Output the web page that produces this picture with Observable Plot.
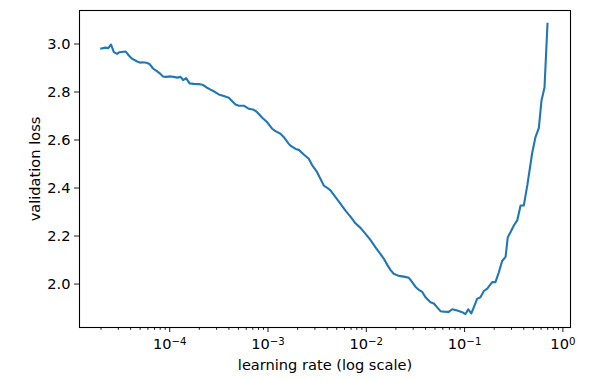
<!DOCTYPE html>
<html>
<head>
<meta charset="utf-8">
<script src="https://cdn.jsdelivr.net/npm/d3@7"></script>
<script src="https://cdn.jsdelivr.net/npm/@observablehq/plot@0.6"></script>
<style>
  html, body { margin: 0; padding: 0; background: #fff; }
  #chart svg { display: block; }
</style>
</head>
<body>
<div id="chart"></div>
<script>
const learningRates = [
  2.01e-5, 2.22e-5, 2.37e-5, 2.53e-5, 2.70e-5, 2.91e-5, 3.08e-5, 3.55e-5, 3.84e-5, 4.16e-5,
  4.67e-5, 5.05e-5, 5.25e-5, 5.81e-5, 6.23e-5, 6.76e-5, 7.34e-5, 7.87e-5, 8.55e-5, 9.06e-5,
  1.02e-4, 1.10e-4, 1.19e-4, 1.29e-4, 1.37e-4, 1.47e-4, 1.59e-4, 1.76e-4, 1.98e-4, 2.19e-4,
  2.37e-4, 2.60e-4, 2.81e-4, 3.16e-4, 3.55e-4, 3.99e-4, 4.32e-4, 4.67e-4, 5.05e-4, 5.68e-4,
  6.38e-4, 7.18e-4, 7.76e-4, 8.73e-4, 9.82e-4, 1.10e-3, 1.19e-3, 1.34e-3, 1.45e-3, 1.62e-3,
  1.69e-3, 1.91e-3, 2.06e-3, 2.31e-3, 2.60e-3, 2.82e-3, 3.16e-3, 3.42e-3, 3.70e-3, 4.00e-3,
  4.32e-3, 4.86e-3, 5.47e-3, 6.14e-3, 6.90e-3, 7.76e-3, 8.73e-3, 9.82e-3, 1.10e-2, 1.24e-2,
  1.39e-2, 1.51e-2, 1.63e-2, 1.76e-2, 1.90e-2, 2.14e-2, 2.41e-2, 2.71e-2, 2.93e-2, 3.17e-2,
  3.42e-2, 3.71e-2, 4.00e-2, 4.50e-2, 4.86e-2, 5.26e-2, 5.69e-2, 6.14e-2, 6.90e-2, 7.48e-2,
  8.41e-2, 9.46e-2, 0.102, 0.109, 0.117, 0.124, 0.134, 0.145, 0.157, 0.170,
  0.191, 0.206, 0.223, 0.241, 0.261, 0.275, 0.293, 0.317, 0.343, 0.371,
  0.400, 0.436, 0.487, 0.526, 0.569, 0.606, 0.650, 0.697
];
const validationLoss = [
  2.981, 2.985, 2.983, 2.998, 2.966, 2.959, 2.966, 2.969, 2.952, 2.938,
  2.927, 2.922, 2.924, 2.922, 2.917, 2.898, 2.888, 2.879, 2.865, 2.863,
  2.865, 2.863, 2.860, 2.863, 2.850, 2.858, 2.836, 2.834, 2.833, 2.829,
  2.819, 2.810, 2.803, 2.790, 2.783, 2.776, 2.762, 2.748, 2.743, 2.743,
  2.730, 2.726, 2.716, 2.693, 2.674, 2.647, 2.637, 2.626, 2.612, 2.585,
  2.577, 2.563, 2.559, 2.540, 2.522, 2.494, 2.466, 2.438, 2.410, 2.401,
  2.390, 2.362, 2.334, 2.306, 2.281, 2.253, 2.234, 2.209, 2.184, 2.153,
  2.126, 2.105, 2.081, 2.059, 2.043, 2.034, 2.031, 2.026, 2.008, 1.988,
  1.976, 1.967, 1.945, 1.924, 1.919, 1.903, 1.887, 1.885, 1.884, 1.895,
  1.890, 1.883, 1.875, 1.895, 1.878, 1.903, 1.938, 1.945, 1.971, 1.981,
  2.008, 2.008, 2.049, 2.096, 2.113, 2.195, 2.216, 2.244, 2.265, 2.327,
  2.327, 2.415, 2.546, 2.612, 2.650, 2.765, 2.819, 3.084
];
const xMajorTicks = [1e-4, 1e-3, 1e-2, 1e-1, 1];
const xMajorBase = "10";
const xMajorExponents = ["\u22124", "\u22123", "\u22122", "\u22121", "0"];
const yTicks = [2.0, 2.2, 2.4, 2.6, 2.8, 3.0];
const xLabel = "learning rate (log scale)";
const yLabel = "validation loss";

const data = learningRates.map((lr, i) => ({lr, loss: validationLoss[i]}));

const xDomain = [1.208e-5, 1.195];
const xMinorTicks = [];
for (let e = -5; e <= 0; e++) {
  for (let k = 2; k <= 9; k++) {
    const v = k * Math.pow(10, e);
    if (v >= xDomain[0] && v <= xDomain[1]) xMinorTicks.push(v);
  }
}

const font = "DejaVu Sans";
const fs = 14.6;
const chart = Plot.plot({
  width: 592,
  height: 381,
  marginLeft: 79,
  marginRight: 22,
  marginTop: 10,
  marginBottom: 54,
  style: {fontFamily: font, fontSize: fs + "px", color: "#000", background: "#fff"},
  x: {type: "log", domain: xDomain},
  y: {domain: [1.819, 3.1396]},
  marks: [
    Plot.axisX({ticks: xMinorTicks, tickSize: 2.8, text: null, label: null, strokeWidth: 0.9}),
    Plot.axisX({ticks: xMajorTicks, tickSize: 5, tickPadding: 6.5, strokeWidth: 0.9,
      tickFormat: d => xMajorBase + "^" + xMajorExponents[xMajorTicks.indexOf(d)], fontSize: fs,
      label: xLabel, labelAnchor: "center", labelArrow: "none", labelOffset: 42}),
    Plot.axisY({ticks: yTicks, tickSize: 5, tickPadding: 4, strokeWidth: 0.9,
      tickFormat: d3.format(".1f"), fontSize: fs,
      label: yLabel, labelAnchor: "center", labelArrow: "none", labelOffset: 50}),
    Plot.line(data, {x: "lr", y: "loss", stroke: "#1f77b4", strokeWidth: 2.1, strokeLinejoin: "round", strokeLinecap: "square"}),
    Plot.frame({stroke: "#000", strokeWidth: 1.1})
  ]
});

// Render "10^e" tick labels with a real superscript, like matplotlib's mathtext.
const svgNS = "http://www.w3.org/2000/svg";
chart.querySelectorAll('g[aria-label="x-axis tick label"] text').forEach(t => {
  const label = t.textContent;
  if (!label.includes("^")) return;
  const [base, exp] = label.split("^");
  t.textContent = "";
  const b = document.createElementNS(svgNS, "tspan");
  b.textContent = base;
  const s = document.createElementNS(svgNS, "tspan");
  s.textContent = exp;
  s.setAttribute("font-size", "10.2px");
  s.setAttribute("dy", "-4.4");
  t.appendChild(b);
  t.appendChild(s);
});

document.getElementById("chart").appendChild(chart);
</script>
</body>
</html>
